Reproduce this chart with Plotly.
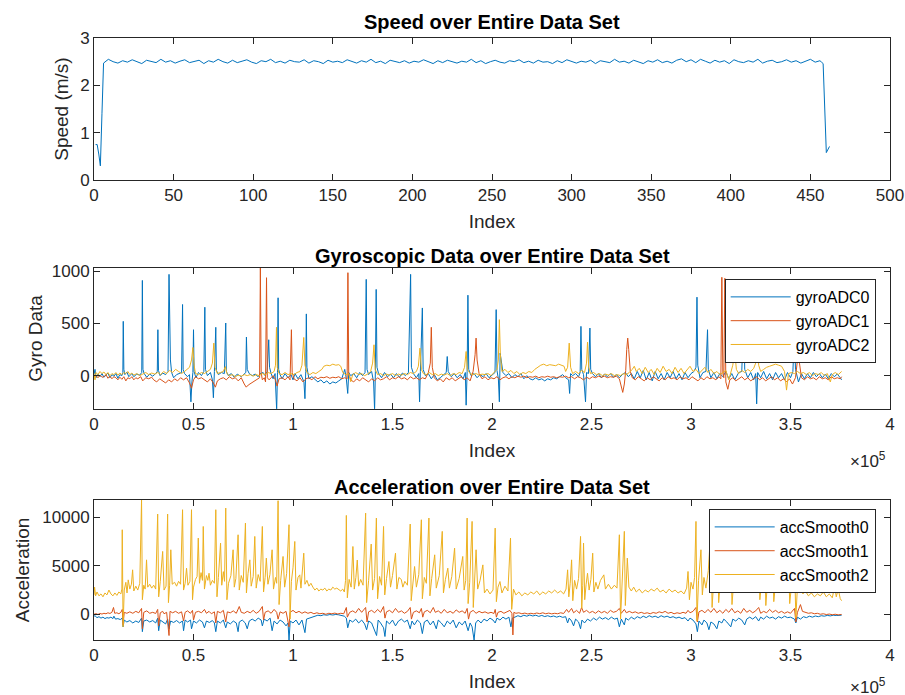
import plotly.graph_objects as go

# ---------------- Speed data ----------------
speed_head_idx = [1, 2, 3, 4, 5, 6]
speed_head_val = [0.75, 0.75, 0.55, 0.30, 1.40, 2.47]
speed_mid_idx = list(range(9, 457, 3))
speed_mid_val = [
    2.55, 2.50, 2.47, 2.52, 2.49, 2.54, 2.50, 2.46, 2.53, 2.51, 2.48, 2.55, 2.49, 2.52, 2.47,
    2.51, 2.54, 2.48, 2.50, 2.53, 2.46, 2.52, 2.49, 2.55, 2.50, 2.47, 2.53, 2.48, 2.51, 2.54,
    2.49, 2.46, 2.52, 2.50, 2.55, 2.48, 2.51, 2.47, 2.53, 2.50, 2.49, 2.54, 2.47, 2.52, 2.50,
    2.46, 2.53, 2.49, 2.51, 2.48, 2.54, 2.50, 2.47, 2.52, 2.49, 2.55, 2.48, 2.51, 2.46, 2.53,
    2.50, 2.48, 2.52, 2.47, 2.51, 2.49, 2.54, 2.50, 2.46, 2.52, 2.48, 2.53, 2.50, 2.47, 2.51,
    2.49, 2.55, 2.48, 2.52, 2.46, 2.50, 2.53, 2.49, 2.47, 2.52, 2.50, 2.54, 2.48, 2.51, 2.47,
    2.53, 2.49, 2.50, 2.46, 2.52, 2.48, 2.54, 2.50, 2.47, 2.51, 2.49, 2.53, 2.46, 2.52, 2.50,
    2.48, 2.55, 2.49, 2.51, 2.47, 2.53, 2.50, 2.46, 2.52, 2.49, 2.54, 2.48, 2.51, 2.47, 2.53,
    2.56, 2.50, 2.54, 2.48, 2.55, 2.51, 2.47, 2.53, 2.49, 2.52, 2.46, 2.54, 2.50, 2.48, 2.52,
    2.49, 2.55, 2.47, 2.51, 2.53, 2.48, 2.50, 2.54, 2.49, 2.52, 2.47, 2.51, 2.55, 2.49, 2.52,
]
speed_tail_idx = [457, 458, 460, 461, 462]
speed_tail_val = [2.49, 2.46, 0.58, 0.65, 0.71]

# ---------------- Gyro data (x in units of 1e5) ----------------
gyro0 = [
    (0.000, 10), (0.005, 60), (0.010, -20), (0.020, 15), (0.030, -10), (0.040, 20), (0.050, -15), (0.060, 5),
    (0.070, 25), (0.080, -20), (0.090, 10), (0.100, -5), (0.110, 20), (0.120, -25), (0.130, 10), (0.140, 0),
    (0.145, 30), (0.147, 519), (0.150, 60), (0.155, 10), (0.165, 35), (0.175, -10), (0.190, 20), (0.200, -10),
    (0.215, 15), (0.230, 5), (0.240, 30), (0.243, 910), (0.246, 60), (0.252, 20), (0.265, -15), (0.280, 15),
    (0.295, -5), (0.310, 20), (0.318, 40), (0.321, 439), (0.324, 50), (0.332, 0), (0.345, 25), (0.360, 10),
    (0.372, 40), (0.377, 968), (0.380, 215), (0.384, 150), (0.390, 30), (0.400, -20), (0.415, 10), (0.430, 20),
    (0.440, 30), (0.445, 680), (0.448, 60), (0.455, 20), (0.470, -10), (0.480, 10), (0.487, -250), (0.492, -60),
    (0.497, 30), (0.500, 439), (0.503, 40), (0.512, -20), (0.525, 30), (0.540, 0), (0.552, 40), (0.557, 654),
    (0.560, 60), (0.570, 0), (0.585, 30), (0.595, -40), (0.600, -211), (0.605, 40), (0.612, 462), (0.615, 50),
    (0.625, 10), (0.640, 30), (0.655, 20), (0.662, 503), (0.665, 40), (0.675, 0), (0.690, 20), (0.705, -15),
    (0.720, 15), (0.740, -10), (0.755, 20), (0.763, 30), (0.766, 369), (0.770, 60), (0.780, 20), (0.795, 0),
    (0.810, 15), (0.825, -10), (0.835, 20), (0.850, 30), (0.860, 0), (0.870, 40), (0.878, 343), (0.882, 80),
    (0.890, 20), (0.900, -30), (0.910, 20), (0.918, -330), (0.922, 30), (0.925, 744), (0.928, 60), (0.935, 10),
    (0.945, -30), (0.960, 20), (0.975, -20), (0.990, 10), (1.000, -40), (1.010, 20), (1.025, -30), (1.040, 10),
    (1.055, -60), (1.060, -220), (1.064, 40), (1.067, 590), (1.070, 80), (1.080, -30), (1.095, -10), (1.110, -40),
    (1.125, -60), (1.140, -40), (1.155, -70), (1.170, -50), (1.185, -80), (1.200, -60), (1.215, -70), (1.230, -50),
    (1.245, -30), (1.260, 60), (1.268, -30), (1.275, -170), (1.280, 30), (1.290, 0), (1.305, 20), (1.320, -20),
    (1.335, 30), (1.350, 0), (1.362, 30), (1.368, 920), (1.372, 60), (1.380, 10), (1.395, 40), (1.405, -60),
    (1.410, -330), (1.414, 40), (1.418, 824), (1.422, 80), (1.430, 20), (1.445, -20), (1.460, 30), (1.475, -10),
    (1.490, 15), (1.505, -20), (1.520, 20), (1.535, -15), (1.550, 25), (1.565, 0), (1.580, 30), (1.591, 968),
    (1.595, 80), (1.605, 20), (1.620, -20), (1.632, 20), (1.636, -250), (1.640, 40), (1.650, 647), (1.654, 60),
    (1.665, 0), (1.680, 20), (1.695, -30), (1.710, 10), (1.725, -40), (1.740, -20), (1.755, 10), (1.770, 30),
    (1.775, 183), (1.780, 40), (1.795, -10), (1.810, 20), (1.825, -20), (1.840, 10), (1.855, -30), (1.866, 30),
    (1.870, -282), (1.875, 40), (1.879, 769), (1.883, 60), (1.895, 0), (1.910, 20), (1.925, -20), (1.940, 10),
    (1.955, -10), (1.970, 20), (1.985, -20), (2.000, 10), (2.015, 30), (2.021, 631), (2.025, 50), (2.032, -30),
    (2.037, -250), (2.041, 215), (2.046, 150), (2.055, 30), (2.070, 0), (2.085, 20), (2.100, -20), (2.115, 10),
    (2.130, -10), (2.145, 20), (2.160, -30), (2.175, 0), (2.190, -30), (2.205, -40), (2.220, -20), (2.235, -40),
    (2.250, -30), (2.265, -50), (2.280, -30), (2.295, -40), (2.310, -20), (2.325, -30), (2.340, -10), (2.355, 10),
    (2.370, -20), (2.385, -40), (2.390, -170), (2.395, 20), (2.405, 0), (2.420, 20), (2.435, -10), (2.443, 30),
    (2.447, 471), (2.451, 60), (2.460, 10), (2.470, -250), (2.475, 30), (2.485, 20), (2.492, 455), (2.496, 60),
    (2.505, 20), (2.520, -10), (2.535, 20), (2.550, -20), (2.565, 15), (2.580, -10), (2.595, 20), (2.610, -15),
    (2.625, 10), (2.640, -20), (2.655, 10), (2.670, 30), (2.685, -10), (2.700, 20), (2.715, -30), (2.730, 40),
    (2.745, -20), (2.760, 50), (2.775, -40), (2.790, 30), (2.805, -50), (2.820, 40), (2.835, -30), (2.850, 20),
    (2.865, -40), (2.880, 30), (2.895, -20), (2.910, 40), (2.925, -30), (2.940, 20), (2.955, -40), (2.970, 30),
    (2.985, -20), (3.000, 20), (3.015, 40), (3.025, 80), (3.030, 750), (3.034, 100), (3.045, -20), (3.060, 30),
    (3.075, 40), (3.083, 439), (3.087, 60), (3.100, -20), (3.115, 30), (3.130, -30), (3.145, 20), (3.160, -10),
    (3.175, 40), (3.190, -30), (3.205, 20), (3.220, -40), (3.240, 30), (3.255, 40), (3.265, 560), (3.270, 60),
    (3.285, -20), (3.300, 30), (3.315, -40), (3.325, 20), (3.330, -270), (3.335, 30), (3.350, -20), (3.365, 40),
    (3.380, -30), (3.395, 20), (3.410, -40), (3.425, 30), (3.440, -20), (3.455, 20), (3.470, -40), (3.485, 30),
    (3.500, -20), (3.512, 40), (3.520, 420), (3.525, 60), (3.540, -60), (3.555, 20), (3.570, -30), (3.585, 20),
    (3.600, -20), (3.615, 30), (3.630, -10), (3.645, 20), (3.660, -20), (3.675, 15), (3.690, -30), (3.705, 20),
    (3.720, -10), (3.735, 15), (3.750, -20), (3.757, -40),
]
gyro1 = [
    (0.000, -10), (0.010, 0), (0.020, -20), (0.030, 5), (0.040, -15), (0.050, -10), (0.060, 10), (0.070, -25),
    (0.080, -5), (0.090, -30), (0.100, -10), (0.110, -20), (0.120, -40), (0.130, -15), (0.140, -35), (0.150, -10),
    (0.160, -50), (0.170, -20), (0.180, -30), (0.190, -10), (0.200, -40), (0.210, -20), (0.220, -30), (0.235, -10),
    (0.245, -50), (0.260, -20), (0.275, -30), (0.290, -15), (0.300, -40), (0.315, -60), (0.330, -30), (0.345, -50),
    (0.360, -70), (0.375, -40), (0.390, -60), (0.405, -30), (0.420, -50), (0.435, -20), (0.450, -40), (0.465, -20),
    (0.480, -70), (0.490, -120), (0.500, -40), (0.510, -10), (0.525, -30), (0.540, -20), (0.555, -40), (0.570, -60),
    (0.585, -30), (0.600, -70), (0.610, -110), (0.620, -50), (0.635, -30), (0.650, -20), (0.665, -40), (0.680, -10),
    (0.695, -30), (0.710, -20), (0.725, -50), (0.740, -20), (0.755, -80), (0.765, -110), (0.775, -90), (0.790, -70),
    (0.805, -50), (0.820, -30), (0.832, -20), (0.836, 1030), (0.840, 30), (0.846, -40), (0.856, -20), (0.862, -60),
    (0.867, 936), (0.871, -20), (0.880, -40), (0.890, -20), (0.900, 0), (0.912, -40), (0.920, -100), (0.930, -30),
    (0.945, -20), (0.960, -40), (0.975, -10), (0.985, -40), (0.992, 439), (0.996, 30), (1.005, -30), (1.020, -50),
    (1.035, -20), (1.050, -60), (1.065, -30), (1.080, -20), (1.095, -40), (1.110, -10), (1.125, -30), (1.140, -15),
    (1.155, -20), (1.170, -10), (1.185, -25), (1.200, -15), (1.215, -20), (1.230, -10), (1.245, -30), (1.260, -20),
    (1.272, -30), (1.276, 984), (1.280, 20), (1.290, -40), (1.305, -60), (1.320, -30), (1.335, -50), (1.350, -20),
    (1.365, -40), (1.380, -60), (1.395, -30), (1.410, -50), (1.425, -20), (1.440, -40), (1.455, -30), (1.470, -10),
    (1.485, -40), (1.500, -20), (1.515, -30), (1.530, -10), (1.545, -30), (1.560, -20), (1.575, -40), (1.590, -10),
    (1.605, -30), (1.620, -20), (1.635, -40), (1.650, -20), (1.665, -30), (1.680, 30), (1.690, 120), (1.695, 462),
    (1.700, 80), (1.710, -20), (1.725, -50), (1.740, -30), (1.755, -60), (1.770, -20), (1.785, -40), (1.800, -20),
    (1.815, -50), (1.830, -30), (1.845, -10), (1.860, -40), (1.875, -20), (1.890, -50), (1.905, 40), (1.915, 200),
    (1.920, 359), (1.925, 150), (1.935, 20), (1.950, -30), (1.965, -10), (1.980, -40), (1.995, -20), (2.010, -30),
    (2.025, -10), (2.040, -40), (2.055, -20), (2.070, -10), (2.085, -30), (2.100, -10), (2.115, -20), (2.130, -5),
    (2.145, -15), (2.160, -5), (2.175, -20), (2.190, -10), (2.205, -15), (2.220, -5), (2.235, -20), (2.250, -10),
    (2.265, -15), (2.280, -5), (2.295, -15), (2.310, -10), (2.325, -20), (2.340, -10), (2.355, -15), (2.370, -5),
    (2.385, -20), (2.400, -10), (2.415, -30), (2.430, -10), (2.445, -20), (2.460, -40), (2.475, -15), (2.490, -30),
    (2.505, -10), (2.520, -20), (2.535, -5), (2.550, -15), (2.565, -5), (2.580, -20), (2.595, -10), (2.610, -15),
    (2.625, -5), (2.640, -30), (2.650, -100), (2.657, -160), (2.665, -80), (2.672, 50), (2.677, 250), (2.682, 359),
    (2.687, 250), (2.695, 40), (2.705, -20), (2.720, -40), (2.735, -10), (2.750, -30), (2.765, -50), (2.780, -20),
    (2.795, -40), (2.810, -10), (2.825, -30), (2.840, -50), (2.855, -20), (2.870, -40), (2.885, -10), (2.900, -30),
    (2.915, -20), (2.930, -40), (2.945, -10), (2.960, -30), (2.975, -20), (2.990, -40), (3.005, -10), (3.020, -30),
    (3.035, -50), (3.050, -20), (3.065, -40), (3.080, -10), (3.095, -30), (3.110, -20), (3.125, -40), (3.140, -10),
    (3.150, -30), (3.155, 940), (3.160, 20), (3.165, -20), (3.170, 930), (3.175, -60), (3.185, -130), (3.195, -40),
    (3.210, -20), (3.225, -50), (3.240, -30), (3.255, -10), (3.270, -40), (3.285, -20), (3.300, -50), (3.315, -30),
    (3.330, -10), (3.345, -40), (3.360, -20), (3.375, -50), (3.390, -30), (3.405, -10), (3.420, -40), (3.435, -20),
    (3.450, -50), (3.465, -30), (3.480, -60), (3.495, -30), (3.510, -80), (3.525, -20), (3.535, 150), (3.540, 247),
    (3.545, 120), (3.555, -20), (3.570, -40), (3.585, -10), (3.600, -30), (3.615, -20), (3.630, -40), (3.645, -10),
    (3.660, -30), (3.675, -20), (3.690, -40), (3.705, -10), (3.720, -30), (3.735, -20), (3.750, -30), (3.757, -10),
]
gyro2 = [
    (0.000, 20), (0.005, -40), (0.010, 30), (0.020, 10), (0.030, 40), (0.040, 20), (0.050, 35), (0.060, 10),
    (0.070, 30), (0.080, 0), (0.090, 20), (0.100, 10), (0.110, 30), (0.120, 5), (0.130, 25), (0.140, 10),
    (0.150, 30), (0.160, 20), (0.170, 40), (0.180, 10), (0.190, 25), (0.200, 5), (0.215, 20), (0.230, 0),
    (0.245, 15), (0.260, 30), (0.275, 10), (0.290, 25), (0.305, 15), (0.320, 30), (0.335, 10), (0.350, 40),
    (0.365, 20), (0.380, 50), (0.395, 30), (0.410, 60), (0.425, 40), (0.440, 20), (0.455, 40), (0.470, 60),
    (0.480, 80), (0.490, 150), (0.497, 269), (0.503, 100), (0.510, 20), (0.525, 10), (0.540, 30), (0.555, 20),
    (0.570, 40), (0.585, 60), (0.595, 120), (0.602, 311), (0.608, 80), (0.620, 20), (0.635, 30), (0.650, 40),
    (0.660, 87), (0.668, 20), (0.680, 0), (0.695, 10), (0.710, -10), (0.725, 5), (0.740, -5), (0.755, 10),
    (0.770, 0), (0.785, 10), (0.800, -5), (0.815, 10), (0.830, 0), (0.845, 20), (0.860, 10), (0.875, 30),
    (0.890, 20), (0.905, 40), (0.912, 100), (0.917, 462), (0.921, 80), (0.930, 20), (0.945, 10), (0.960, 30),
    (0.975, 10), (0.990, 20), (1.005, 10), (1.020, 30), (1.035, 40), (1.045, 100), (1.054, 365), (1.060, 100),
    (1.070, 30), (1.085, 10), (1.100, 30), (1.115, 20), (1.130, 40), (1.145, 60), (1.155, 90), (1.170, 100),
    (1.185, 95), (1.200, 110), (1.215, 100), (1.230, 105), (1.240, 90), (1.250, 30), (1.265, 10), (1.280, 20),
    (1.290, -58), (1.300, 10), (1.315, 30), (1.330, 10), (1.345, 20), (1.360, 0), (1.375, 15), (1.390, 40),
    (1.400, 120), (1.407, 295), (1.413, 60), (1.425, 10), (1.440, 20), (1.455, 0), (1.470, 15), (1.485, 5),
    (1.500, 20), (1.515, 0), (1.530, 15), (1.545, 5), (1.560, 20), (1.575, 10), (1.590, 30), (1.605, 20),
    (1.620, 40), (1.630, 90), (1.638, 263), (1.645, 60), (1.655, 20), (1.670, 10), (1.685, 30), (1.700, 10),
    (1.715, 20), (1.730, 0), (1.745, 15), (1.760, 5), (1.775, 20), (1.790, 0), (1.805, 20), (1.820, 10),
    (1.835, 30), (1.850, 20), (1.862, 80), (1.870, 231), (1.876, 60), (1.890, 20), (1.905, 10), (1.920, 20),
    (1.935, 5), (1.950, 15), (1.965, 10), (1.980, 20), (1.995, 0), (2.010, 30), (2.025, 60), (2.032, 150),
    (2.037, 535), (2.042, 200), (2.050, 40), (2.065, 60), (2.080, 30), (2.095, 50), (2.110, 20), (2.125, 40),
    (2.140, 10), (2.155, 30), (2.170, 20), (2.185, 40), (2.200, 30), (2.215, 60), (2.230, 80), (2.245, 100),
    (2.260, 110), (2.275, 95), (2.290, 105), (2.305, 100), (2.320, 95), (2.335, 110), (2.350, 100), (2.362, 90),
    (2.370, 40), (2.380, 80), (2.388, 311), (2.395, 80), (2.405, 20), (2.420, 40), (2.435, 20), (2.450, 50),
    (2.465, 30), (2.475, 120), (2.480, 320), (2.486, 80), (2.495, 20), (2.510, 30), (2.525, 10), (2.540, 20),
    (2.555, 0), (2.570, 15), (2.585, 5), (2.600, 20), (2.615, 0), (2.630, 10), (2.645, 0), (2.660, 20),
    (2.675, 10), (2.690, 30), (2.705, 60), (2.715, 90), (2.725, 40), (2.740, 70), (2.755, 20), (2.770, 80),
    (2.785, 30), (2.800, 60), (2.815, 10), (2.830, 70), (2.845, 30), (2.860, 90), (2.875, 40), (2.890, 60),
    (2.905, 20), (2.920, 80), (2.935, 30), (2.950, 70), (2.965, 20), (2.980, 50), (2.995, 90), (3.010, 40),
    (3.025, 60), (3.040, 20), (3.055, 50), (3.070, 80), (3.085, 30), (3.100, 60), (3.115, 20), (3.130, 40),
    (3.145, 10), (3.160, 30), (3.175, 50), (3.190, -40), (3.200, 40), (3.210, 100), (3.220, 231), (3.228, 60),
    (3.240, 20), (3.255, 50), (3.270, 30), (3.285, 60), (3.300, 40), (3.315, 70), (3.325, 120), (3.333, 560),
    (3.340, 100), (3.350, 40), (3.365, 60), (3.380, 80), (3.395, 90), (3.410, 100), (3.425, 110), (3.440, 100),
    (3.455, 90), (3.470, 40), (3.480, -138), (3.490, 20), (3.505, 30), (3.520, 20), (3.535, 40), (3.550, 20),
    (3.565, 30), (3.580, 10), (3.595, 30), (3.610, 0), (3.625, 20), (3.640, 10), (3.655, 30), (3.670, 0),
    (3.685, 20), (3.700, -60), (3.710, 10), (3.725, 30), (3.740, 10), (3.757, 40),
]

# ---------------- Acceleration data (x in units of 1e5) ----------------
acc0 = [
    (0.000, -200), (0.005, -150), (0.015, -350), (0.025, -250), (0.035, -400), (0.045, -300), (0.055, -450),
    (0.065, -350), (0.075, -400), (0.085, -300), (0.095, -450), (0.100, -200), (0.108, -500), (0.120, -450),
    (0.132, -550), (0.142, -400), (0.146, -1300), (0.152, -600), (0.165, -800), (0.180, -650), (0.195, -900),
    (0.210, -700), (0.225, -850), (0.239, -400), (0.243, -1800), (0.250, -700), (0.265, -600), (0.280, -800),
    (0.295, -650), (0.310, -900), (0.320, -400), (0.325, -1700), (0.333, -600), (0.345, -800), (0.360, -1000),
    (0.370, -500), (0.377, -1500), (0.385, -700), (0.400, -850), (0.415, -650), (0.430, -900), (0.445, -700),
    (0.450, -1700), (0.458, -600), (0.470, -800), (0.485, -600), (0.490, -1500), (0.500, -700), (0.515, -900),
    (0.530, -600), (0.545, -800), (0.555, -1400), (0.565, -700), (0.580, -850), (0.595, -650), (0.605, -900),
    (0.612, -1800), (0.620, -700), (0.635, -900), (0.650, -600), (0.662, -1400), (0.670, -800), (0.685, -1000),
    (0.700, -700), (0.715, -900), (0.724, -1800), (0.730, -800), (0.745, -600), (0.760, -900), (0.770, -1500),
    (0.780, -700), (0.795, -500), (0.810, -700), (0.825, -400), (0.840, -600), (0.846, -1200), (0.855, -500),
    (0.870, -700), (0.885, -400), (0.895, -1700), (0.905, -700), (0.920, -1000), (0.935, -600), (0.950, -800),
    (0.965, -1200), (0.975, -900), (0.980, -2660), (0.986, -700), (1.000, -900), (1.015, -600), (1.030, -1100),
    (1.045, -600), (1.060, -1900), (1.068, -500), (1.080, -400), (1.095, -300), (1.110, -200), (1.125, -100),
    (1.140, -150), (1.155, -50), (1.170, -100), (1.185, -30), (1.200, -80), (1.215, -20), (1.230, -60),
    (1.245, -100), (1.258, -200), (1.268, -400), (1.275, -1400), (1.285, -600), (1.300, -800), (1.315, -500),
    (1.330, -900), (1.345, -600), (1.360, -1000), (1.370, -1600), (1.380, -700), (1.395, -900), (1.410, -1800),
    (1.420, -2200), (1.428, -600), (1.440, -900), (1.455, -1400), (1.462, -2300), (1.470, -700), (1.485, -1000),
    (1.500, -600), (1.515, -1200), (1.530, -700), (1.545, -500), (1.560, -800), (1.575, -600), (1.589, -1500),
    (1.598, -700), (1.610, -1100), (1.625, -600), (1.640, -900), (1.650, -2000), (1.660, -800), (1.675, -600),
    (1.690, -1100), (1.705, -700), (1.720, -1500), (1.730, -600), (1.745, -900), (1.760, -1300), (1.775, -700),
    (1.790, -1000), (1.805, -600), (1.820, -1400), (1.835, -800), (1.850, -1100), (1.865, -700), (1.880, -1700),
    (1.890, -900), (1.900, -1300), (1.910, -2660), (1.918, -900), (1.930, -600), (1.945, -900), (1.960, -500),
    (1.975, -700), (1.990, -400), (2.005, -600), (2.016, -900), (2.025, -400), (2.040, -600), (2.055, -300),
    (2.070, -500), (2.085, -300), (2.095, -1300), (2.102, -400), (2.115, -300), (2.130, -150), (2.145, -250),
    (2.160, -100), (2.175, -200), (2.190, -80), (2.205, -180), (2.220, -100), (2.235, -220), (2.250, -120),
    (2.265, -240), (2.280, -150), (2.295, -260), (2.310, -180), (2.325, -300), (2.340, -200), (2.355, -320),
    (2.370, -250), (2.380, -900), (2.388, -400), (2.400, -700), (2.410, -1200), (2.420, -500), (2.435, -800),
    (2.445, -1500), (2.452, -600), (2.465, -900), (2.480, -500), (2.495, -700), (2.510, -400), (2.525, -600),
    (2.540, -300), (2.555, -500), (2.570, -350), (2.585, -550), (2.600, -300), (2.615, -500), (2.630, -400),
    (2.640, -1300), (2.650, -500), (2.665, -1100), (2.672, -400), (2.685, -600), (2.700, -300), (2.715, -500),
    (2.730, -250), (2.745, -400), (2.760, -200), (2.775, -350), (2.790, -150), (2.805, -300), (2.820, -200),
    (2.835, -350), (2.850, -150), (2.865, -300), (2.880, -200), (2.895, -350), (2.910, -250), (2.925, -400),
    (2.940, -300), (2.955, -450), (2.970, -350), (2.985, -700), (2.995, -400), (3.010, -600), (3.025, -1000),
    (3.032, -1800), (3.040, -700), (3.055, -1100), (3.065, -600), (3.080, -900), (3.090, -1600), (3.100, -800),
    (3.115, -1000), (3.130, -1500), (3.140, -700), (3.155, -900), (3.165, -500), (3.180, -800), (3.200, -1300),
    (3.210, -500), (3.225, -700), (3.240, -400), (3.255, -600), (3.270, -1100), (3.280, -500), (3.295, -300),
    (3.310, -500), (3.325, -250), (3.340, -700), (3.350, -300), (3.365, -500), (3.380, -200), (3.395, -400),
    (3.410, -300), (3.425, -500), (3.440, -250), (3.455, -400), (3.470, -200), (3.485, -350), (3.500, -300),
    (3.520, -500), (3.527, -900), (3.535, -300), (3.550, -500), (3.565, -250), (3.580, -350), (3.595, -200),
    (3.610, -300), (3.625, -180), (3.640, -250), (3.655, -150), (3.670, -200), (3.685, -120), (3.700, -170),
    (3.715, -100), (3.730, -130), (3.745, -80), (3.757, -100),
]
acc1 = [
    (0.000, 0), (0.010, 60), (0.020, -20), (0.030, 80), (0.040, 20), (0.050, 100), (0.060, 50), (0.070, 150),
    (0.080, 80), (0.090, 200), (0.098, 700), (0.104, 100), (0.115, 150), (0.125, 50), (0.135, 200), (0.142, 500),
    (0.146, -1100), (0.152, 200), (0.165, 100), (0.180, 250), (0.195, 100), (0.210, 300), (0.225, 150),
    (0.239, 600), (0.243, -1500), (0.250, 200), (0.265, 350), (0.280, 100), (0.295, 200), (0.310, 80),
    (0.320, 500), (0.325, -1200), (0.333, 150), (0.345, 300), (0.352, 50), (0.365, 200), (0.377, -2200),
    (0.382, 300), (0.395, 150), (0.410, 300), (0.425, 100), (0.440, 250), (0.450, -700), (0.458, 200),
    (0.470, 350), (0.485, 100), (0.495, 400), (0.500, -600), (0.510, 200), (0.525, 300), (0.540, 150),
    (0.555, 500), (0.565, 100), (0.578, 300), (0.590, 50), (0.605, 250), (0.612, -900), (0.620, 300),
    (0.635, 150), (0.650, 400), (0.662, -800), (0.670, 250), (0.685, 150), (0.700, 350), (0.715, 100),
    (0.730, 800), (0.740, 200), (0.755, 100), (0.770, 300), (0.785, 150), (0.800, 400), (0.815, 100),
    (0.830, 300), (0.846, 800), (0.852, -600), (0.860, 200), (0.875, 350), (0.890, 100), (0.905, 500),
    (0.918, 200), (0.925, -500), (0.935, 250), (0.950, 100), (0.965, 300), (0.980, -1300), (0.985, 200),
    (1.000, 400), (1.015, 150), (1.030, 300), (1.045, 100), (1.060, 250), (1.075, 100), (1.090, 200),
    (1.105, 50), (1.120, 150), (1.135, 50), (1.150, 100), (1.165, 0), (1.180, 100), (1.195, 50), (1.210, 120),
    (1.225, 30), (1.240, 100), (1.255, 50), (1.268, 700), (1.273, -300), (1.285, 200), (1.300, 350),
    (1.315, 150), (1.330, 600), (1.345, 200), (1.365, 700), (1.372, -800), (1.380, 250), (1.395, 400),
    (1.410, 150), (1.425, 500), (1.440, 200), (1.455, 800), (1.462, -400), (1.470, 250), (1.485, 400),
    (1.500, 150), (1.515, 600), (1.530, 200), (1.545, 350), (1.560, 100), (1.575, 300), (1.589, 700),
    (1.595, -500), (1.605, 200), (1.620, 350), (1.635, 150), (1.645, 600), (1.652, -300), (1.660, 250),
    (1.675, 400), (1.690, 150), (1.705, 700), (1.715, 200), (1.730, 350), (1.745, 100), (1.760, 500),
    (1.775, 150), (1.790, 300), (1.805, 100), (1.820, 450), (1.835, 200), (1.850, 350), (1.865, 100),
    (1.875, 600), (1.882, -500), (1.890, 200), (1.905, 400), (1.920, 100), (1.935, 300), (1.950, 150),
    (1.965, 250), (1.980, 100), (1.995, 200), (2.010, 80), (2.016, 500), (2.022, -300), (2.030, 200),
    (2.045, 300), (2.060, 100), (2.075, 250), (2.090, 400), (2.100, 100), (2.105, -2140), (2.110, 200),
    (2.120, 100), (2.135, 150), (2.150, 50), (2.165, 120), (2.180, 30), (2.195, 100), (2.210, 40), (2.225, 130),
    (2.240, 60), (2.255, 150), (2.270, 50), (2.285, 120), (2.300, 40), (2.315, 100), (2.330, 50), (2.345, 150),
    (2.360, 80), (2.375, 500), (2.385, 200), (2.400, 600), (2.410, 150), (2.425, 400), (2.440, 100),
    (2.450, 700), (2.460, 200), (2.475, 400), (2.490, 150), (2.505, 300), (2.520, 100), (2.535, 350),
    (2.550, 150), (2.565, 300), (2.580, 100), (2.595, 400), (2.610, 200), (2.625, 300), (2.640, 600),
    (2.650, 100), (2.665, 500), (2.675, 150), (2.690, 300), (2.705, 150), (2.720, 250), (2.735, 100),
    (2.750, 200), (2.765, 80), (2.780, 150), (2.795, 50), (2.810, 180), (2.825, 100), (2.840, 250),
    (2.855, 150), (2.870, 300), (2.885, 100), (2.900, 200), (2.915, 50), (2.930, 150), (2.945, 80),
    (2.960, 200), (2.975, 100), (2.985, 400), (2.995, 150), (3.010, 300), (3.025, 700), (3.032, -800),
    (3.040, 250), (3.055, 400), (3.070, 150), (3.085, 500), (3.100, 200), (3.115, 600), (3.130, 150),
    (3.145, 400), (3.160, 100), (3.175, 500), (3.190, 200), (3.205, 600), (3.220, 150), (3.235, 350),
    (3.250, 100), (3.265, 600), (3.280, 200), (3.295, 400), (3.310, 150), (3.325, 350), (3.340, 700),
    (3.350, 100), (3.365, 300), (3.380, 150), (3.395, 500), (3.410, 200), (3.425, 400), (3.440, 150),
    (3.455, 300), (3.470, 100), (3.485, 250), (3.500, 100), (3.520, 600), (3.527, -800), (3.535, 200),
    (3.550, 1000), (3.560, 300), (3.575, 200), (3.590, 100), (3.605, 150), (3.620, 50), (3.635, 100),
    (3.650, 0), (3.665, 50), (3.680, -30), (3.695, 20), (3.710, -50), (3.725, 0), (3.740, -60), (3.757, -20),
]
acc2 = [
    (0.000, 2000), (0.003, 2800), (0.008, 1900), (0.015, 2300), (0.025, 1900), (0.035, 2100), (0.045, 1800),
    (0.055, 2200), (0.065, 2000), (0.075, 2500), (0.085, 2100), (0.095, 1900), (0.105, 2200), (0.115, 1950),
    (0.125, 2300), (0.135, 2100), (0.140, 2600), (0.142, 8730), (0.146, -1300), (0.152, 2500), (0.160, 3300),
    (0.166, 2200), (0.172, 3550), (0.180, 2600), (0.188, 3100), (0.194, 4590), (0.200, 2400), (0.210, 2900),
    (0.220, 2500), (0.230, 3200), (0.239, 11830), (0.243, 1500), (0.250, 3000), (0.257, 2600), (0.264, 5620),
    (0.270, 2800), (0.280, 3100), (0.290, 2700), (0.300, 3000), (0.310, 2600), (0.320, 10350), (0.325, 1800),
    (0.333, 3400), (0.345, 6490), (0.352, 2500), (0.362, 2900), (0.370, 10350), (0.374, 1200), (0.380, 3000),
    (0.386, 6660), (0.393, 3100), (0.405, 3300), (0.415, 2900), (0.425, 3400), (0.435, 3100), (0.445, 10800),
    (0.450, 2500), (0.458, 3200), (0.465, 4760), (0.472, 3000), (0.482, 3400), (0.490, 10800), (0.495, 1500),
    (0.500, 2800), (0.510, 3600), (0.518, 3900), (0.524, 7870), (0.530, 3200), (0.538, 4300), (0.545, 3500),
    (0.549, 9070), (0.555, 2600), (0.565, 4000), (0.572, 3500), (0.578, 4240), (0.585, 3000), (0.595, 3500),
    (0.605, 3200), (0.612, 10800), (0.618, 1800), (0.625, 3800), (0.636, 7350), (0.642, 3000), (0.650, 4400),
    (0.656, 3400), (0.662, 10970), (0.668, 1500), (0.676, 3200), (0.688, 4000), (0.699, 6660), (0.705, 2800),
    (0.713, 3700), (0.724, 8210), (0.730, 2500), (0.740, 4000), (0.750, 3300), (0.761, 9420), (0.766, 2200),
    (0.774, 4200), (0.783, 5620), (0.790, 2900), (0.800, 3900), (0.808, 8040), (0.815, 2700), (0.825, 4100),
    (0.835, 3400), (0.846, 9070), (0.852, 2300), (0.860, 3800), (0.866, 5800), (0.874, 3100), (0.884, 4100),
    (0.895, 6660), (0.902, 2600), (0.912, 3800), (0.918, 3200), (0.925, 11730), (0.930, 1000), (0.938, 3500),
    (0.950, 5970), (0.958, 2800), (0.968, 4200), (0.980, 9250), (0.985, -500), (0.992, 3400), (1.000, 4800),
    (1.009, 7520), (1.015, 2500), (1.025, 3800), (1.034, 4070), (1.040, 2700), (1.047, 4300), (1.054, 6310),
    (1.060, 3100), (1.070, 3500), (1.080, 2900), (1.090, 3200), (1.100, 2800), (1.110, 2500), (1.120, 2700),
    (1.130, 2400), (1.140, 2600), (1.150, 2500), (1.160, 2700), (1.170, 2400), (1.180, 2600), (1.190, 2500),
    (1.200, 2800), (1.210, 2600), (1.220, 2700), (1.230, 2500), (1.240, 2400), (1.250, 2600), (1.258, 2300),
    (1.264, 3500), (1.268, 10210), (1.273, 1700), (1.282, 3600), (1.292, 2800), (1.301, 7000), (1.308, 2600),
    (1.316, 3800), (1.323, 5600), (1.330, 2900), (1.340, 3600), (1.352, 3000), (1.365, 10450), (1.370, 1200),
    (1.380, 3500), (1.393, 7250), (1.400, 2500), (1.410, 3700), (1.419, 9940), (1.425, 1600), (1.435, 3900),
    (1.445, 3000), (1.455, 9070), (1.461, 2000), (1.470, 3700), (1.482, 5450), (1.490, 2800), (1.500, 4000),
    (1.515, 6310), (1.522, 2600), (1.532, 3800), (1.544, 3600), (1.552, 2800), (1.562, 3400), (1.575, 3000),
    (1.589, 9320), (1.594, 1400), (1.602, 3500), (1.611, 4930), (1.620, 2800), (1.632, 4100), (1.645, 9760),
    (1.650, 1600), (1.660, 3800), (1.670, 3200), (1.683, 9940), (1.688, 1900), (1.697, 3700), (1.712, 6140),
    (1.720, 2700), (1.735, 4000), (1.750, 8560), (1.756, 2200), (1.766, 3600), (1.778, 4760), (1.786, 2700),
    (1.798, 3900), (1.812, 6830), (1.820, 2600), (1.835, 3700), (1.853, 5970), (1.860, 2500), (1.868, 3500),
    (1.875, 9940), (1.880, 1100), (1.888, 3300), (1.900, 9590), (1.906, 700), (1.913, 3400), (1.920, 6660),
    (1.928, 2600), (1.940, 3500), (1.954, 5100), (1.962, 2200), (1.975, 2600), (1.990, 2100), (2.005, 2500),
    (2.016, 8900), (2.022, 1300), (2.030, 2800), (2.040, 3380), (2.050, 2200), (2.065, 2900), (2.080, 2400),
    (2.093, 7870), (2.099, 500), (2.108, 2600), (2.120, 2000), (2.135, 2300), (2.150, 1900), (2.165, 2200),
    (2.180, 2000), (2.195, 2300), (2.210, 2100), (2.225, 2400), (2.240, 2000), (2.255, 2300), (2.270, 2100),
    (2.285, 2400), (2.300, 2200), (2.315, 2500), (2.330, 2200), (2.345, 2400), (2.360, 2100), (2.372, 2600),
    (2.380, 4590), (2.386, 1800), (2.393, 3200), (2.400, 5620), (2.406, 1400), (2.415, 3500), (2.425, 2600),
    (2.435, 3700), (2.445, 8040), (2.451, 600), (2.456, 3000), (2.460, 7350), (2.466, 1500), (2.473, 3100),
    (2.480, 4240), (2.488, 2500), (2.497, 3600), (2.506, 6310), (2.512, 2300), (2.522, 3300), (2.532, 2600),
    (2.545, 3500), (2.562, 4070), (2.570, 2600), (2.585, 3100), (2.600, 2600), (2.615, 3000), (2.628, 2700),
    (2.640, 8210), (2.646, -500), (2.655, 3400), (2.665, 8560), (2.670, 900), (2.675, 3500), (2.680, 5800),
    (2.688, 2800), (2.700, 2400), (2.712, 2800), (2.725, 2300), (2.740, 2600), (2.755, 2200), (2.770, 2500),
    (2.785, 2300), (2.800, 2600), (2.815, 2400), (2.830, 2700), (2.845, 2300), (2.860, 2500), (2.875, 2200),
    (2.890, 2600), (2.905, 2300), (2.920, 2500), (2.935, 2200), (2.950, 2400), (2.965, 2100), (2.978, 2700),
    (2.985, 4420), (2.992, 1500), (3.000, 3300), (3.010, 2600), (3.018, 3800), (3.025, 9590), (3.030, -700),
    (3.038, 3500), (3.050, 6660), (3.057, 2000), (3.065, 3800), (3.075, 2700), (3.087, 4500), (3.100, 8900),
    (3.106, 700), (3.115, 3800), (3.133, 8210), (3.139, 1200), (3.148, 3600), (3.160, 2600), (3.172, 4200),
    (3.185, 3000), (3.200, 7180), (3.206, 1000), (3.215, 3500), (3.228, 2600), (3.240, 4800), (3.252, 2400),
    (3.265, 5500), (3.275, 2200), (3.290, 4300), (3.305, 2500), (3.320, 3700), (3.340, 6140), (3.346, 1500),
    (3.355, 3300), (3.370, 7000), (3.376, 900), (3.385, 3500), (3.398, 2700), (3.410, 6500), (3.416, 1300),
    (3.425, 3200), (3.440, 5000), (3.448, 2300), (3.460, 3800), (3.475, 2600), (3.490, 6000), (3.496, 1100),
    (3.505, 3000), (3.520, 5500), (3.527, -400), (3.535, 3000), (3.548, 2400), (3.555, 4000), (3.562, 2100),
    (3.575, 2400), (3.590, 1900), (3.605, 2200), (3.620, 1800), (3.635, 2100), (3.650, 1900), (3.665, 2300),
    (3.680, 1800), (3.695, 2100), (3.710, 1700), (3.722, 2900), (3.730, 1800), (3.740, 2600), (3.750, 1600),
    (3.757, 1400),
]

idx_ticks = [0, 0.5, 1, 1.5, 2, 2.5, 3, 3.5, 4]
idx_tick_text = ["0", "0.5", "1", "1.5", "2", "2.5", "3", "3.5", "4"]
acc_ticks = [0, 5000, 10000]
acc_tick_text = ["0", "5000", "10000"]
SCALE = 1e5

BLUE, ORANGE, YELLOW = "#0072BD", "#D95319", "#EDB120"
FONT = "Liberation Sans, Arial, sans-serif"
AX = "#262626"


def xs(pairs):
    return [p[0] * SCALE for p in pairs]


def ys(pairs):
    return [p[1] for p in pairs]


fig = go.Figure()

fig.add_trace(go.Scatter(
    x=speed_head_idx + speed_mid_idx + speed_tail_idx,
    y=speed_head_val + speed_mid_val + speed_tail_val,
    mode="lines", line=dict(color=BLUE, width=1), showlegend=False,
    xaxis="x", yaxis="y"))

for name, data, col in [("gyroADC0", gyro0, BLUE), ("gyroADC1", gyro1, ORANGE), ("gyroADC2", gyro2, YELLOW)]:
    fig.add_trace(go.Scatter(x=xs(data), y=ys(data), mode="lines", name=name,
                             line=dict(color=col, width=1), xaxis="x2", yaxis="y2", legend="legend"))

for name, data, col in [("accSmooth0", acc0, BLUE), ("accSmooth1", acc1, ORANGE), ("accSmooth2", acc2, YELLOW)]:
    fig.add_trace(go.Scatter(x=xs(data), y=ys(data), mode="lines", name=name,
                             line=dict(color=col, width=1), xaxis="x3", yaxis="y3", legend="legend2"))

common = dict(showline=True, linecolor=AX, linewidth=1, mirror="ticks", ticks="inside",
              ticklen=6, tickcolor=AX, tickwidth=1, showgrid=False, zeroline=False, automargin=False,
              tickfont=dict(family=FONT, size=17, color=AX))
title_font = dict(family=FONT, size=19, color=AX)

idx_axis = dict(common, range=[0, 4 * SCALE], tickvals=[t * SCALE for t in idx_ticks],
                ticktext=idx_tick_text, title=dict(text="Index", font=title_font, standoff=10))

legend_common = dict(x=0.982, xanchor="right", yanchor="top", bgcolor="white",
                     bordercolor="#262626", borderwidth=1, itemwidth=60,
                     font=dict(family=FONT, size=16, color="#000000"), tracegroupgap=0)

fig.update_layout(
    width=905, height=695,
    margin=dict(l=94, r=15, t=38, b=55, autoexpand=False),
    paper_bgcolor="white", plot_bgcolor="white",
    font=dict(family=FONT, color=AX),
    xaxis=dict(common, domain=[0, 1], anchor="y", range=[0, 500], tickvals=list(range(0, 501, 50)),
               title=dict(text="Index", font=title_font, standoff=10)),
    yaxis=dict(common, domain=[0.764, 1.0], anchor="x", range=[0, 3], tickvals=[0, 1, 2, 3],
               title=dict(text="Speed (m/s)", font=title_font, standoff=6)),
    xaxis2=dict(idx_axis, domain=[0, 1], anchor="y2"),
    yaxis2=dict(common, domain=[0.384, 0.618], anchor="x2", range=[-317, 1029], tickvals=[0, 500, 1000],
                title=dict(text="Gyro Data", font=title_font, standoff=4)),
    xaxis3=dict(idx_axis, domain=[0, 1], anchor="y3"),
    yaxis3=dict(common, domain=[0.0, 0.233], anchor="x3", range=[-2660, 11830], tickvals=acc_ticks,
                ticktext=acc_tick_text, title=dict(text="Acceleration", font=title_font, standoff=7)),
    legend=dict(legend_common, y=0.5997),
    legend2=dict(legend_common, y=0.2176),
)

titles = [("Speed over Entire Data Set", 1.0266), ("Gyroscopic Data over Entire Data Set", 0.638),
          ("Acceleration over Entire Data Set", 0.254)]
for txt, yy in titles:
    fig.add_annotation(text="<b>" + txt + "</b>", xref="paper", yref="paper", x=0.5, y=yy,
                       xanchor="center", yanchor="middle", showarrow=False,
                       font=dict(family=FONT, size=20, color="#000000"))

for yy in [0.299, -0.076]:
    fig.add_annotation(text="×10<sup>5</sup>", xref="paper", yref="paper", x=0.998, y=yy,
                       xanchor="right", yanchor="middle", showarrow=False,
                       font=dict(family=FONT, size=17, color=AX))

# remove the browser's default 8 px page margin so the figure fills the window exactly
fig.write_html("out.html", config={"displayModeBar": False},
               post_script="document.body.style.margin='0px'; document.body.style.overflow='hidden';")
